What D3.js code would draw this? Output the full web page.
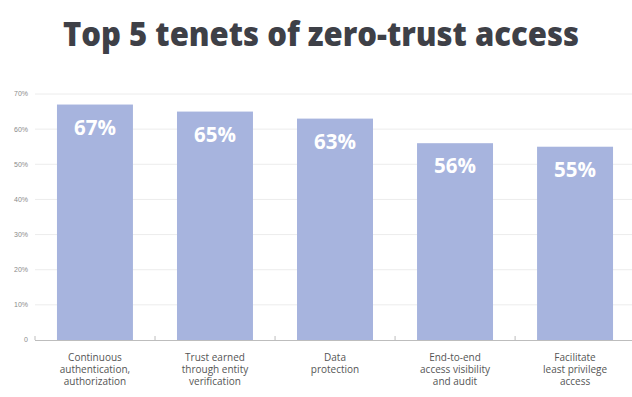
<!DOCTYPE html>
<html lang="en">
  <head>
    <meta charset="utf-8">
    <title>Top 5 tenets of zero-trust access</title>
    <script src="https://cdn.jsdelivr.net/npm/d3@7"></script>
    <style>
      body { margin: 0; background: #fff; }
    </style>
  </head>
  <body>
    <script>
      const WIDTH = 632, HEIGHT = 397;

      // data
      var categories = [
        ["Continuous", "authentication,", "authorization"],
        ["Trust earned", "through entity", "verification"],
        ["Data", "protection"],
        ["End-to-end", "access visibility", "and audit"],
        ["Facilitate", "least privilege", "access"]
      ];
      var values = [67, 65, 63, 56, 55];
      var tickValues = [0, 10, 20, 30, 40, 50, 60, 70];

      var svg = d3.select("body").append("svg")
        .attr("width", WIDTH)
        .attr("height", HEIGHT);

      svg.append("text")
        .attr("x", 321)
        .attr("y", 46)
        .attr("text-anchor", "middle")
        .attr("fill", "#3e4047")
        .attr("textLength", 516)
        .attr("lengthAdjust", "spacingAndGlyphs")
        .attr("style", "font-family: 'Open Sans', sans-serif; font-weight: 800; font-size: 33px;")
        .text("Top 5 tenets of zero-trust access");

      var x = d3.scaleBand()
        .domain(d3.range(values.length))
        .range([35, 635])
        .paddingInner(0.367)
        .paddingOuter(0.183);

      var y = d3.scaleLinear()
        .domain([0, 70])
        .range([340, 94]);

      // gridlines
      svg.append("g")
        .selectAll("line")
        .data(tickValues.slice(1))
        .join("line")
        .attr("x1", 35)
        .attr("x2", WIDTH)
        .attr("y1", d => y(d))
        .attr("y2", d => y(d))
        .attr("stroke", "#ececec")
        .attr("stroke-width", 1);

      // y tick labels
      svg.append("g")
        .selectAll("text")
        .data(tickValues)
        .join("text")
        .attr("x", 28)
        .attr("y", d => y(d))
        .attr("dy", "0.35em")
        .attr("text-anchor", "end")
        .attr("fill", "#8a8a8a")
        .attr("style", "font-family: 'Liberation Sans', sans-serif; font-size: 7px;")
        .text(d => d === 0 ? "0" : d + "%");

      // bars
      svg.append("g")
        .selectAll("rect")
        .data(values)
        .join("rect")
        .attr("x", (d, i) => x(i))
        .attr("width", x.bandwidth())
        .attr("y", d => y(d))
        .attr("height", d => y(0) - y(d))
        .attr("fill", "#a7b4de");

      // value labels
      svg.append("g")
        .selectAll("text")
        .data(values)
        .join("text")
        .attr("x", (d, i) => x(i) + x.bandwidth() / 2)
        .attr("y", d => y(d) + 30)
        .attr("text-anchor", "middle")
        .attr("fill", "#fff")
        .attr("style", "font-family: 'Open Sans', sans-serif; font-weight: 700; font-size: 20.5px;")
        .text(d => d + "%");

      // x axis
      var xAxis = svg.append("g");
      xAxis.append("line")
        .attr("x1", 35).attr("x2", WIDTH)
        .attr("y1", 340.5).attr("y2", 340.5)
        .attr("stroke", "#bdbdbd");
      xAxis.selectAll(".tick")
        .data(d3.range(values.length + 1))
        .join("line")
        .attr("class", "tick")
        .attr("x1", i => 35 + i * x.step())
        .attr("x2", i => 35 + i * x.step())
        .attr("y1", 336).attr("y2", 340)
        .attr("stroke", "#bdbdbd");

      // category labels
      svg.append("g")
        .selectAll("text")
        .data(categories)
        .join("text")
        .attr("x", (d, i) => x(i) + x.bandwidth() / 2)
        .attr("y", 361)
        .attr("text-anchor", "middle")
        .attr("fill", "#555")
        .attr("style", "font-family: 'Open Sans', sans-serif; font-size: 10px;")
        .selectAll("tspan")
        .data(d => d)
        .join("tspan")
        .attr("x", function() { return this.parentNode.getAttribute("x"); })
        .attr("dy", (d, j) => j === 0 ? 0 : 12)
        .text(d => d);
    </script>
  </body>
</html>
